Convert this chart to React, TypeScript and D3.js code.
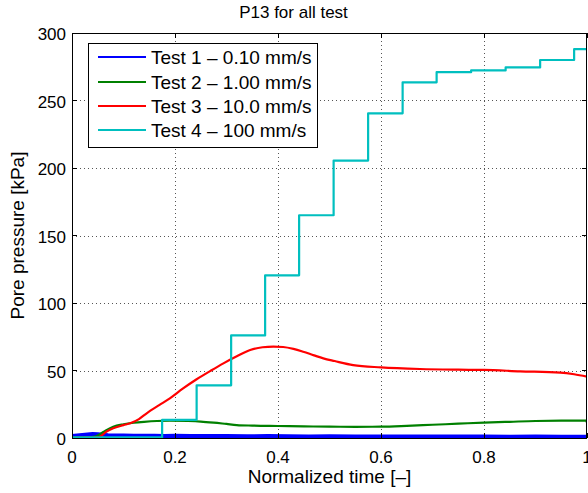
import React from "react";
import * as d3 from "d3";

const W = 588;
const H = 493;
const M = { left: 72, right: 1, top: 33, bottom: 55 };

const xTicks = [0, 0.2, 0.4, 0.6, 0.8, 1];
const xTickLabels = ["0", "0.2", "0.4", "0.6", "0.8", "1"];
const yTicks = [0, 50, 100, 150, 200, 250, 300];
const yTickLabels = ["0", "50", "100", "150", "200", "250", "300"];

const seriesNames = [
  "Test 1 \u2013 0.10 mm/s",
  "Test 2 \u2013 1.00 mm/s",
  "Test 3 \u2013 10.0 mm/s",
  "Test 4 \u2013 100 mm/s",
];
const seriesColors = ["#0000FF", "#008000", "#FF0000", "#00BFBF"];

// Test 1 (noisy, near zero)
const t1Time = [0, 0.01, 0.02, 0.03, 0.04, 0.05, 0.06, 0.07, 0.08, 0.1, 0.12, 0.14, 0.16, 0.18, 0.2, 0.23, 0.26, 0.3, 0.34, 0.38, 0.42, 0.46, 0.5, 0.55, 0.6, 0.65, 0.7, 0.75, 0.8, 0.85, 0.9, 0.95, 1];
const t1Value = [1.4, 1.9, 2.3, 2.6, 2.9, 2.8, 2.4, 2.1, 1.9, 1.8, 1.7, 1.6, 1.7, 1.5, 1.6, 1.4, 1.5, 1.4, 1.3, 1.4, 1.3, 1.2, 1.3, 1.2, 1.1, 1.2, 1.1, 1.2, 1.1, 1.0, 1.1, 1.0, 1.0];

// Test 2
const t2Time = [0, 0.03, 0.045, 0.055, 0.065, 0.08, 0.1, 0.12, 0.14, 0.165, 0.19, 0.225, 0.25, 0.275, 0.3, 0.32, 0.35, 0.4, 0.45, 0.5, 0.55, 0.6, 0.65, 0.7, 0.75, 0.8, 0.85, 0.9, 0.95, 0.998, 1];
const t2Value = [0.3, 0.4, 1.0, 3.0, 5.5, 8.4, 10.2, 11.3, 12.0, 12.6, 12.8, 12.6, 12.2, 11.4, 10.4, 9.6, 9.2, 8.9, 8.6, 8.4, 8.3, 8.4, 9.0, 9.8, 10.6, 11.4, 12.0, 12.6, 12.8, 12.8, 11.5];

// Test 3
const t3Time = [0, 0.04, 0.05, 0.055, 0.067, 0.08, 0.1, 0.113, 0.13, 0.145, 0.17, 0.19, 0.215, 0.242, 0.27, 0.294, 0.32, 0.346, 0.37, 0.391, 0.41, 0.43, 0.449, 0.47, 0.488, 0.51, 0.546, 0.6, 0.676, 0.75, 0.8, 0.87, 0.948, 0.975, 1];
const t3Value = [0.2, 0.3, 0.6, 1.2, 4.7, 7.2, 9.5, 10.9, 14.0, 18.3, 24.5, 29.4, 36.5, 43.5, 50.0, 55.3, 60.5, 65.2, 67.2, 67.7, 67.4, 66.0, 63.9, 61.2, 59.0, 57.0, 54.0, 52.3, 51.1, 50.6, 50.4, 49.4, 48.4, 47.2, 45.5];

// Test 4 (stepwise)
const t4Time = [0, 0.175, 0.242, 0.309, 0.375, 0.441, 0.508, 0.575, 0.642, 0.708, 0.775, 0.842, 0.909, 0.975, 1];
const t4Value = [0.5, 13.5, 39, 76, 120.5, 165, 205.5, 240.5, 263.5, 271, 272.3, 274.5, 280, 288, 288];

const FONT = "'Liberation Sans', Arial, Helvetica, sans-serif";

export default function App() {
  const x = d3.scaleLinear().domain([0, 1]).range([M.left, W - M.right - 0]);
  const y = d3.scaleLinear().domain([0, 300]).range([H - M.bottom, M.top]);
  const x0 = x(0), x1 = x(1), y0 = y(0), y1 = y(300);

  const mk = (ts: number[], vs: number[], curve: d3.CurveFactory) =>
    d3
      .line<number>()
      .x((_, i) => x(ts[i]))
      .y((v) => y(v))
      .curve(curve)(vs) || "";

  const paths = [
    { d: mk(t1Time, t1Value, d3.curveLinear), c: seriesColors[0], w: 4 },
    { d: mk(t2Time, t2Value, d3.curveMonotoneX), c: seriesColors[1], w: 2.2 },
    { d: mk(t3Time, t3Value, d3.curveMonotoneX), c: seriesColors[2], w: 2.2 },
    { d: mk(t4Time, t4Value, d3.curveStepAfter), c: seriesColors[3], w: 2.2 },
  ];

  const tickLen = 5;
  const legend = { x: 88, y: 43, w: 229, h: 104 };
  const rowY = [57, 82, 106, 130];

  return (
    <svg
      width={W}
      height={H}
      style={{ position: "absolute", left: 0, top: 0, background: "#fff" }}
      fontFamily={FONT}
    >
      <rect x={0} y={0} width={W} height={H} fill="#fff" />
      <defs>
        <clipPath id="plotclip">
          <rect x={x0} y={y1} width={x1 - x0} height={y0 - y1} />
        </clipPath>
      </defs>
      {/* grid */}
      <g stroke="#555" strokeWidth={1} strokeDasharray="1 3" shapeRendering="crispEdges">
        {xTicks.slice(1, -1).map((t) => (
          <line key={"gx" + t} x1={Math.round(x(t)) + 0.5} x2={Math.round(x(t)) + 0.5} y1={y1} y2={y0} />
        ))}
        {yTicks.slice(1, -1).map((t) => (
          <line key={"gy" + t} x1={x0} x2={x1} y1={Math.round(y(t)) + 0.5} y2={Math.round(y(t)) + 0.5} />
        ))}
      </g>
      {/* data */}
      <g clipPath="url(#plotclip)" fill="none" strokeLinejoin="round">
        {paths.map((p, i) => (
          <path key={i} d={p.d} stroke={p.c} strokeWidth={p.w} />
        ))}
      </g>
      {/* ticks */}
      <g stroke="#000" strokeWidth={1} shapeRendering="crispEdges">
        {xTicks.map((t) => (
          <g key={"tx" + t}>
            <line x1={x(t)} x2={x(t)} y1={y0} y2={y0 - tickLen} />
            <line x1={x(t)} x2={x(t)} y1={y1} y2={y1 + tickLen} />
          </g>
        ))}
        {yTicks.map((t) => (
          <g key={"ty" + t}>
            <line x1={x0} x2={x0 + tickLen} y1={y(t)} y2={y(t)} />
            <line x1={x1} x2={x1 - tickLen} y1={y(t)} y2={y(t)} />
          </g>
        ))}
        <rect x={x0 + 0.5} y={y1 + 0.5} width={x1 - x0 - 1} height={y0 - y1} fill="none" />
      </g>
      {/* tick labels */}
      <g fontSize={17} fill="#000">
        {xTicks.map((t, i) => (
          <text key={"lx" + t} x={x(t)} y={y0 + 25} textAnchor="middle">
            {xTickLabels[i]}
          </text>
        ))}
        {yTicks.map((t, i) => (
          <text key={"ly" + t} x={x0 - 6} y={y(t) + 7} textAnchor="end">
            {yTickLabels[i]}
          </text>
        ))}
      </g>
      {/* axis labels & title */}
      <text x={(x0 + x1) / 2} y={483} fontSize={19} textAnchor="middle">
        Normalized time [{"\u2013"}]
      </text>
      <text
        transform={`translate(24, ${(y0 + y1) / 2}) rotate(-90)`}
        fontSize={19}
        textAnchor="middle"
      >
        Pore pressure [kPa]
      </text>
      <text x={293.5} y={18} fontSize={17} textAnchor="middle">
        P13 for all test
      </text>
      {/* legend */}
      <g>
        <rect
          x={legend.x + 0.5}
          y={legend.y + 0.5}
          width={legend.w}
          height={legend.h}
          fill="#fff"
          stroke="#000"
          strokeWidth={1}
        />
        {seriesNames.map((n, i) => (
          <g key={n}>
            <line x1={98} x2={146} y1={rowY[i]} y2={rowY[i]} stroke={seriesColors[i]} strokeWidth={2.2} />
            <text x={151} y={rowY[i] + 7} fontSize={19}>
              {n}
            </text>
          </g>
        ))}
      </g>
    </svg>
  );
}
